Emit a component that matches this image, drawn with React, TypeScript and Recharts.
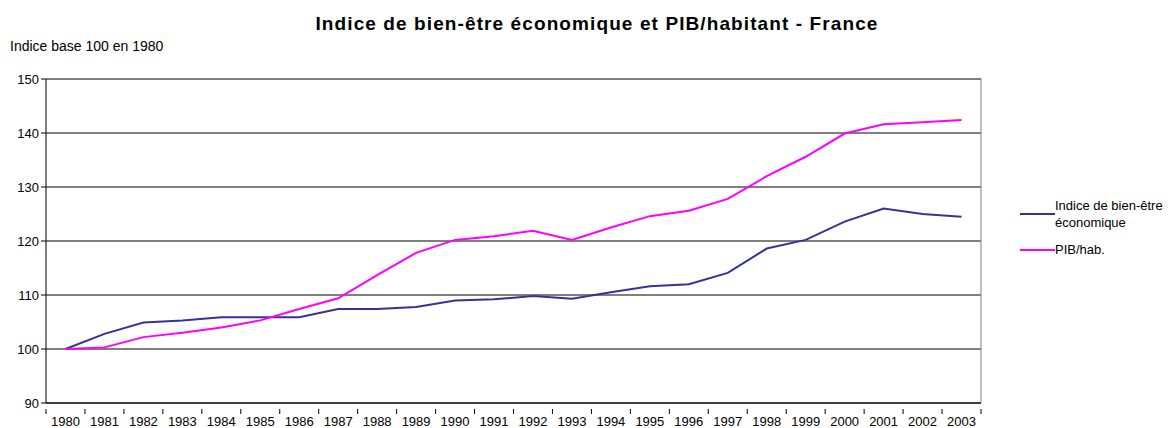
import { LineChart, Line, XAxis, YAxis, CartesianGrid, ReferenceLine } from "recharts"

const years = [
    "1980", "1981", "1982", "1983", "1984", "1985", "1986", "1987", "1988", "1989", "1990", "1991",
    "1992", "1993", "1994", "1995", "1996", "1997", "1998", "1999", "2000", "2001", "2002", "2003",
]

const bienEtre = [
    100, 102.8, 104.9, 105.3, 105.9, 105.9, 105.9, 107.4, 107.4, 107.8, 109.0, 109.2,
    109.8, 109.3, 110.5, 111.6, 112.0, 114.1, 118.6, 120.2, 123.6, 126.0, 125.0, 124.5,
]

const pibHab = [
    100, 100.3, 102.2, 103.0, 104.0, 105.3, 107.4, 109.4, 113.7, 117.8, 120.2, 120.9,
    121.9, 120.2, 122.5, 124.6, 125.6, 127.8, 132.0, 135.6, 139.9, 141.6, 142.0, 142.4,
]

const yTicks = [90, 100, 110, 120, 130, 140, 150]

const data = years.map((year, i) => ({ year, bienEtre: bienEtre[i], pib: pibHab[i] }))

const FONT = "Arial, 'Liberation Sans', sans-serif"
const BAND = (981 - 46) / years.length

// tick marks sit on the category edges, labels in the middle
function YearTick(props: any) {
    const { x, y, payload, index } = props
    const last = index === years.length - 1
    return (
        <g>
            <line x1={x - BAND / 2} x2={x - BAND / 2} y1={y - 2} y2={y + 3} stroke="#000" />
            {last && <line x1={x + BAND / 2} x2={x + BAND / 2} y1={y - 2} y2={y + 3} stroke="#000" />}
            <text x={x} y={y + 15} textAnchor="middle" fontSize={13} fontFamily={FONT} fill="#000">
                {payload.value}
            </text>
        </g>
    )
}

function LegendBox() {
    return (
        <div
            style={{
                position: "absolute",
                left: 1020,
                top: 197,
                width: 150,
                fontFamily: FONT,
                fontSize: 13,
                color: "#000",
                lineHeight: "17px",
            }}
        >
            <div style={{ display: "flex", alignItems: "center" }}>
                <div style={{ width: 35, height: 2, background: "#333399" }} />
                <div style={{ width: 112 }}>Indice de bien-être économique</div>
            </div>
            <div style={{ display: "flex", alignItems: "center", marginTop: 10 }}>
                <div style={{ width: 35, height: 2, background: "#ff00ff" }} />
                <div>PIB/hab.</div>
            </div>
        </div>
    )
}

export default function App() {
    return (
        <div style={{ position: "absolute", left: 0, top: 0, width: 1168, height: 428, background: "#fff" }}>
            <div
                style={{
                    position: "absolute",
                    left: 0,
                    width: 1194,
                    top: 13,
                    textAlign: "center",
                    fontFamily: FONT,
                    fontWeight: "bold",
                    fontSize: 19,
                    letterSpacing: 1.1,
                }}
            >
                Indice de bien-être économique et PIB/habitant - France
            </div>
            <div style={{ position: "absolute", left: 10, top: 38, fontFamily: FONT, fontSize: 14 }}>
                Indice base 100 en 1980
            </div>
            <LineChart width={1168} height={428} data={data} margin={{ top: 79, right: 186, bottom: 0, left: 6 }}>
                <CartesianGrid vertical={false} stroke="#000" strokeOpacity={1} yAxisId="left" />
                <XAxis
                    dataKey="year"
                    interval={0}
                    tickLine={false}
                    axisLine={{ stroke: "#000" }}
                    tick={<YearTick />}
                    padding={{ left: BAND / 2, right: BAND / 2 }}
                    height={25}
                />
                <YAxis
                    yAxisId="left"
                    domain={[90, 150]}
                    ticks={yTicks}
                    width={40}
                    axisLine={{ stroke: "#000" }}
                    tickLine={{ stroke: "#000" }}
                    tickSize={5}
                    tick={{ fontSize: 13, fontFamily: FONT, fill: "#000" }}
                />
                <YAxis
                    yAxisId="right"
                    orientation="right"
                    width={1}
                    tick={false}
                    tickLine={false}
                    axisLine={{ stroke: "#808080" }}
                />
                <ReferenceLine yAxisId="left" y={150} stroke="#808080" />
                <Line
                    yAxisId="left"
                    dataKey="bienEtre"
                    name="Indice de bien-être économique"
                    stroke="#333399"
                    strokeWidth={2}
                    dot={false}
                    isAnimationActive={false}
                />
                <Line
                    yAxisId="left"
                    dataKey="pib"
                    name="PIB/hab."
                    stroke="#ff00ff"
                    strokeWidth={2}
                    dot={false}
                    isAnimationActive={false}
                />
            </LineChart>
            <LegendBox />
        </div>
    )
}
